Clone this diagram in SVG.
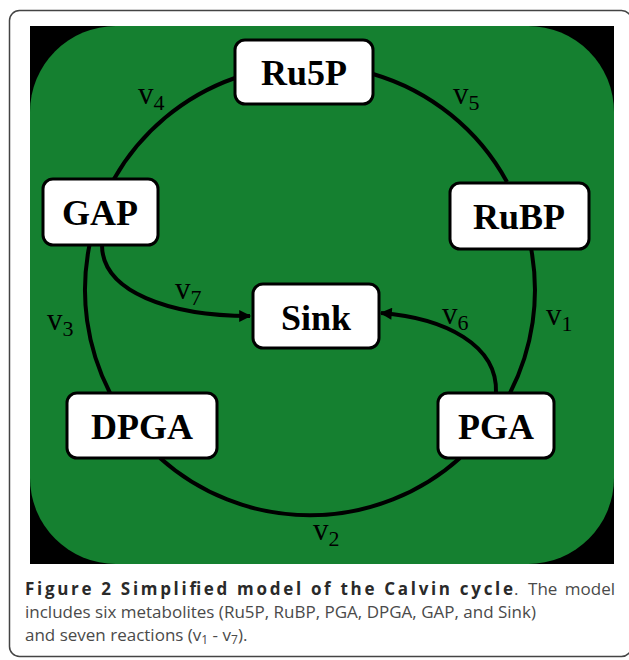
<svg xmlns="http://www.w3.org/2000/svg" width="629" height="660" viewBox="0 0 629 660">
  <defs>
    <style>
      .card { fill: #ffffff; stroke: #444444; stroke-width: 1.5; }
      .node rect { fill: #ffffff; stroke: #000000; stroke-width: 3; }
      .node text { font-family: "Liberation Serif", "Times New Roman", serif; font-weight: bold; font-size: 36px; fill: #000000; text-anchor: middle; }
      .edge { fill: none; stroke: #000000; stroke-width: 4; }
      .lbl { font-family: "Liberation Serif", "Times New Roman", serif; font-size: 31px; fill: #000000; }
      .lbl tspan.sub { font-size: 22px; }
      .cap { font-family: "Open Sans", "Liberation Sans", sans-serif; font-size: 17px; fill: #4a4a4a; }
      .cap .b { font-weight: bold; fill: #2a2a2a; }
    </style>
    <marker id="arrow" viewBox="0 0 10 10" refX="9" refY="5" markerWidth="3.6" markerHeight="3" orient="auto" markerUnits="strokeWidth">
      <path d="M0,0 L10,5 L0,10 Z" fill="#000000"/>
    </marker>
  </defs>

  <!-- figure card -->
  <rect class="card" x="9.5" y="10.5" width="622" height="646" rx="10" ry="10"/>

  <!-- panel: black frame with green rounded field -->
  <rect x="30" y="26" width="584" height="538" fill="#000000"/>
  <rect x="30" y="26" width="584" height="538" rx="86" ry="86" fill="#158030"/>

  <!-- reactions -->
  <g id="connectors">
    <path id="v5" class="edge" d="M373,74 A225,225 0 0 1 507,182"/>
    <path id="v1" class="edge" d="M531,248 A225,225 0 0 1 510,393"/>
    <path id="v2" class="edge" d="M460,458 A225,225 0 0 1 160,458"/>
    <path id="v3" class="edge" d="M110,393 A225,225 0 0 1 89.5,245"/>
    <path id="v4" class="edge" d="M114,179 A225,225 0 0 1 235,78"/>
    <path id="v7" class="edge" d="M102,245 C102,292 170,316 250,316" marker-end="url(#arrow)"/>
    <path id="v6" class="edge" d="M496,393 C498,345 445,318 381,313" marker-end="url(#arrow)"/>
  </g>

  <!-- reaction labels -->
  <g id="labels">
    <text class="lbl" x="138" y="104">v<tspan class="sub" dy="6">4</tspan></text>
    <text class="lbl" x="453" y="104">v<tspan class="sub" dy="6">5</tspan></text>
    <text class="lbl" x="47" y="330">v<tspan class="sub" dy="6">3</tspan></text>
    <text class="lbl" x="546" y="325">v<tspan class="sub" dy="6">1</tspan></text>
    <text class="lbl" x="175" y="299">v<tspan class="sub" dy="6">7</tspan></text>
    <text class="lbl" x="442" y="324">v<tspan class="sub" dy="6">6</tspan></text>
    <text class="lbl" x="313" y="540">v<tspan class="sub" dy="6">2</tspan></text>
  </g>

  <!-- metabolites -->
  <g id="Ru5P" class="node">
    <rect x="235" y="40" width="138" height="64" rx="10"/>
    <text x="304" y="85">Ru5P</text>
  </g>
  <g id="RuBP" class="node">
    <rect x="450" y="183" width="139" height="66" rx="10"/>
    <text x="519" y="229">RuBP</text>
  </g>
  <g id="GAP" class="node">
    <rect x="43" y="179" width="115" height="66" rx="10"/>
    <text x="100" y="225">GAP</text>
  </g>
  <g id="Sink" class="node">
    <rect x="253" y="284" width="126" height="64" rx="10"/>
    <text x="316" y="330">Sink</text>
  </g>
  <g id="DPGA" class="node">
    <rect x="67" y="393" width="150" height="65" rx="10"/>
    <text x="142" y="439">DPGA</text>
  </g>
  <g id="PGA" class="node">
    <rect x="438" y="393" width="116" height="65" rx="10"/>
    <text x="496" y="439">PGA</text>
  </g>

  <!-- caption; first line set justified -->
  <g id="caption" class="cap">
    <text class="b" x="25" y="595" textLength="488" lengthAdjust="spacing">Figure 2 Simplified model of the Calvin cycle</text>
    <text x="514" y="595">.</text>
    <text x="615" y="595" text-anchor="end" word-spacing="3">The model</text>
    <text x="25" y="618">includes six metabolites (Ru5P, RuBP, PGA, DPGA, GAP, and Sink)</text>
    <text x="25" y="641">and seven reactions (v<tspan font-size="12" dy="3">1</tspan><tspan dy="-3"> - v</tspan><tspan font-size="12" dy="3">7</tspan><tspan dy="-3">).</tspan></text>
  </g>
</svg>
